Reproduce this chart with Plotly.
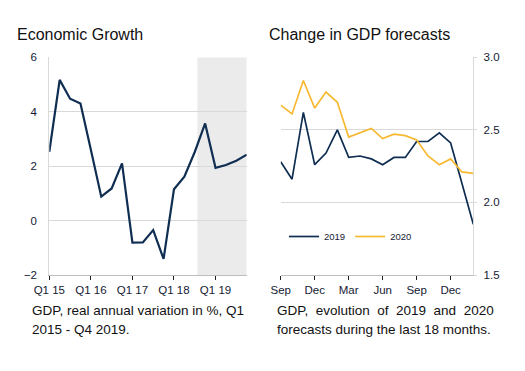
import plotly.graph_objects as go

# ---- Data ----
quarters = [f"Q{q} {y}" for y in range(15, 20) for q in range(1, 5)]
gdp_growth = [2.53, 5.17, 4.48, 4.30, 2.60, 0.88, 1.18, 2.10,
              -0.81, -0.80, -0.35, -1.41, 1.15, 1.61, 2.52, 3.57,
              1.94, 2.04, 2.20, 2.42]
q_tick_labels = ["Q1 15", "Q1 16", "Q1 17", "Q1 18", "Q1 19"]

months = ["Sep", "Oct", "Nov", "Dec", "Jan", "Feb", "Mar", "Apr", "May",
          "Jun", "Jul", "Aug", "Sep", "Oct", "Nov", "Dec", "Jan", "Feb"]
fc_2019 = [2.28, 2.16, 2.62, 2.26, 2.34, 2.50, 2.31, 2.32, 2.30,
           2.26, 2.31, 2.31, 2.42, 2.42, 2.48, 2.41, 2.13, 1.85]
fc_2020 = [2.67, 2.61, 2.84, 2.65, 2.76, 2.69, 2.45, 2.48, 2.51,
           2.44, 2.47, 2.46, 2.43, 2.32, 2.26, 2.30, 2.21, 2.20]
m_tick_labels = ["Sep", "Dec", "Mar", "Jun", "Sep", "Dec"]

NAVY = "#0f2e52"
GOLD = "#f7b931"
GRID = "#d9d9d9"
TXT = "#151a33"
FONT = "Arial, Liberation Sans, sans-serif"

W, H = 525, 371
OFF = 8  # page body margin
def px(x):
    return (x - OFF) / W
def py(y):
    return 1 - (y - OFF) / H

fig = go.Figure()

qx = list(range(len(quarters)))
mx = list(range(len(months)))

fig.add_trace(go.Scatter(x=qx, y=gdp_growth, mode="lines", line=dict(color=NAVY, width=2.2),
                         showlegend=False, xaxis="x", yaxis="y",
                         text=quarters, hoverinfo="text+y"))
fig.add_trace(go.Scatter(x=mx, y=fc_2019, mode="lines", name="2019",
                         line=dict(color=NAVY, width=1.7), xaxis="x2", yaxis="y2",
                         text=months))
fig.add_trace(go.Scatter(x=mx, y=fc_2020, mode="lines", name="2020",
                         line=dict(color=GOLD, width=1.7), xaxis="x2", yaxis="y2",
                         text=months))

# forecast shading on left chart
fig.add_shape(type="rect", xref="x", yref="y", x0=14.25, x1=len(quarters) - 1,
              y0=-2, y1=6, fillcolor="#ebebeb", line=dict(width=0), layer="below")

tickfont = dict(family=FONT, size=11.5, color=TXT)

fig.update_layout(
    width=W, height=H, autosize=False,
    margin=dict(l=0, r=0, t=0, b=0, pad=0, autoexpand=False),
    paper_bgcolor="white", plot_bgcolor="rgba(0,0,0,0)",
    font=dict(family=FONT, color=TXT),
    xaxis=dict(domain=[px(49.3), px(246.7)], range=[0, len(quarters) - 1],
               tickvals=[0, 4, 8, 12, 16], ticktext=q_tick_labels,
               showgrid=False, zeroline=False, showline=True, linecolor="#bfbfbf",
               linewidth=1, ticks="outside", ticklen=4, tickcolor="#222222",
               tickfont=tickfont, anchor="y", automargin=False),
    yaxis=dict(domain=[py(275), py(57.3)], range=[-2, 6], tickvals=[-2, 0, 2, 4, 6],
               showgrid=True, gridcolor=GRID, gridwidth=1, zeroline=False,
               showline=True, linecolor=GRID, ticks="", tickfont=tickfont,
               ticklabelstandoff=9, anchor="x", automargin=False),
    xaxis2=dict(domain=[px(280.7), px(473.3)], range=[0, len(months) - 1],
                tickvals=[0, 3, 6, 9, 12, 15], ticktext=m_tick_labels,
                showgrid=False, zeroline=False, showline=True, linecolor="#bfbfbf",
                linewidth=1, ticks="outside", ticklen=4, tickcolor="#222222",
                tickfont=tickfont, anchor="y2", automargin=False),
    yaxis2=dict(domain=[py(275), py(57.3)], range=[1.5, 3.0],
                tickvals=[1.5, 2.0, 2.5, 3.0], ticktext=["1.5", "2.0", "2.5", "3.0"],
                side="right", showgrid=True, gridcolor=GRID, gridwidth=1, zeroline=False,
                showline=True, linecolor=GRID, ticks="outside", ticklen=3, tickcolor=GRID,
                tickfont=tickfont, ticklabelstandoff=4, anchor="x2", automargin=False),
    legend=dict(orientation="h", x=px(284), y=py(236.5), xanchor="left", yanchor="middle",
                font=dict(family=FONT, size=9.5, color=TXT), bgcolor="rgba(0,0,0,0)",
                itemwidth=30, tracegroupgap=0),
    showlegend=True,
)

title_font = dict(family=FONT, size=16, color="#111111")
fig.add_annotation(text="Economic Growth", x=px(15), y=py(45), xref="paper", yref="paper",
                   xanchor="left", yanchor="bottom", showarrow=False, font=title_font)
fig.add_annotation(text="Change in GDP forecasts", x=px(267), y=py(45), xref="paper", yref="paper",
                   xanchor="left", yanchor="bottom", showarrow=False, font=title_font)

cap_font = dict(family=FONT, size=13.5, color="#111111")
nb = "\u00a0"
cap_left = ["GDP, real annual variation in %, Q1", "2015 - Q4 2019."]
cap_right = [(nb * 2).join(["GDP,", "evolution", "of", "2019", "and", "2020"]),
             "forecasts during the last 18 months."]
for i, (tl, tr) in enumerate(zip(cap_left, cap_right)):
    ytop = 300.5 + i * 19.5
    fig.add_annotation(text=tl, x=px(30), y=py(ytop), xref="paper", yref="paper",
                       xanchor="left", yanchor="top", align="left", showarrow=False, font=cap_font)
    fig.add_annotation(text=tr, x=px(274.5), y=py(ytop), xref="paper", yref="paper",
                       xanchor="left", yanchor="top", align="left", showarrow=False, font=cap_font)

fig.write_html("out.html")
